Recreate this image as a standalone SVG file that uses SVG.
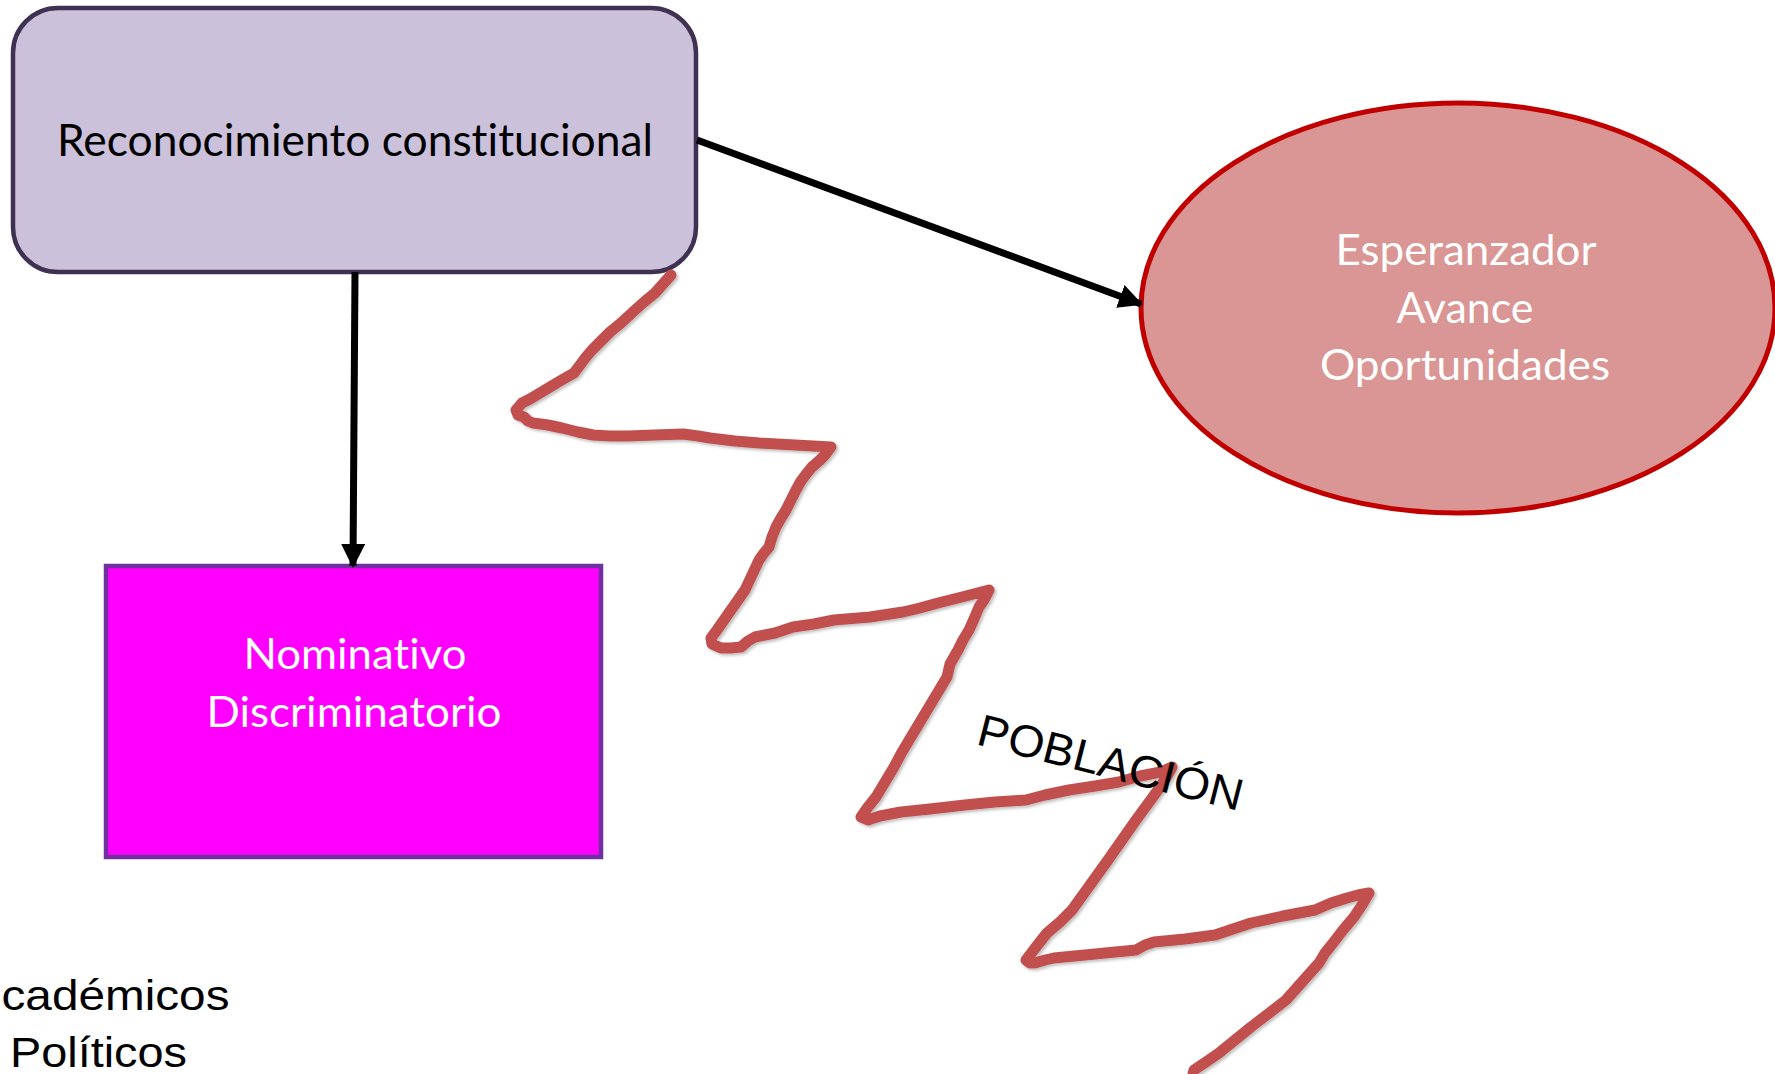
<svg xmlns="http://www.w3.org/2000/svg" width="1775" height="1074" viewBox="0 0 1775 1074">
<style>
.calibri{font-family:Lato,"Open Sans","Noto Sans",sans-serif;font-variant-ligatures:none;}
.arial{font-family:"Liberation Sans",Arial,sans-serif;fill:#000;}
.conn{stroke:#000;stroke-width:7;fill:none;}
.zig{stroke:#C0504D;stroke-width:11;fill:none;stroke-linecap:round;stroke-linejoin:round;}
</style>
<defs>
<marker id="arrow" markerUnits="userSpaceOnUse" markerWidth="24" markerHeight="24" viewBox="0 0 24 24" refX="22" refY="12" orient="auto">
<path d="M0,0 L24,12 L0,24 Z" fill="#000"/>
</marker>
<filter id="shadow" x="-5%" y="-5%" width="110%" height="110%">
<feDropShadow dx="2" dy="2" stdDeviation="1.5" flood-color="#000" flood-opacity="0.25"/>
</filter>
</defs>
<rect width="1775" height="1074" fill="#fff"/>
<g id="node-reconocimiento">
<rect x="13" y="8" width="683" height="264" rx="45" ry="45" fill="#CCC1DA" stroke="#403152" stroke-width="4.5"/>
<text class="calibri" x="355" y="156" font-size="44" text-anchor="middle" textLength="596" lengthAdjust="spacingAndGlyphs" fill="#000">Reconocimiento constitucional</text>
</g>
<g id="node-esperanzador">
<ellipse cx="1458" cy="308" rx="317" ry="205" fill="#D99694" stroke="#C00000" stroke-width="5"/>
<g class="calibri" fill="#fff" font-size="42" text-anchor="middle">
<text x="1466" y="265" textLength="261" lengthAdjust="spacingAndGlyphs">Esperanzador</text>
<text x="1465" y="323" textLength="137" lengthAdjust="spacingAndGlyphs">Avance</text>
<text x="1465" y="380" textLength="290" lengthAdjust="spacingAndGlyphs">Oportunidades</text>
</g>
</g>
<g id="node-nominativo">
<rect x="106" y="566" width="495" height="291" fill="#FF00FF" stroke="#7030A0" stroke-width="4.5"/>
<g class="calibri" fill="#fff" font-size="42" text-anchor="middle">
<text x="355" y="669" textLength="223" lengthAdjust="spacingAndGlyphs">Nominativo</text>
<text x="354" y="727" textLength="295" lengthAdjust="spacingAndGlyphs">Discriminatorio</text>
</g>
</g>
<g id="connectors">
<line class="conn" x1="355" y1="272" x2="353" y2="566" marker-end="url(#arrow)"/>
<line class="conn" x1="697" y1="140" x2="1141" y2="304" marker-end="url(#arrow)"/>
</g>
<g id="zigzag">
<polyline class="zig" filter="url(#shadow)" points="671,275 655,293 644,302 634,311 621,323 610,332 600,342 592,350 586,357 574,373 560,381 545,390 530,399 522,403 516,410 518,415 524,417 528,421 533,423 548,425 562,428 578,432 593,435 610,436 628,436 655,435 683,434 698,436 710,438 735,441 759,443 795,445 831,447 825,455 820,460 812,467 807,473 801,481 796,490 791,500 786,510 781,518 776,527 772,537 769,547 764,553 759,560 752,575 745,590 738,600 731,610 724,620 717,630 711,638 712,644 721,648 731,648 741,647 748,641 755,637 775,633 793,627 814,624 834,620 870,617 903,612 920,608 938,603 962,597 989,590 984,600 979,607 974,619 969,630 963,640 958,650 950,664 947,677 938,692 929,707 920,722 911,737 902,752 894,767 885,782 876,797 868,807 861,817 868,820 880,816 901,812 930,809 965,805 995,802 1026,800 1045,795 1069,790 1095,786 1119,782 1140,776 1161,772 1172,767 1166,778 1158,790 1147,805 1136,820 1122,840 1108,860 1090,885 1072,910 1060,922 1047,933 1036,947 1026,960 1030,963 1035,963 1045,960 1054,958 1095,954 1136,950 1145,945 1154,942 1185,939 1215,935 1233,929 1251,923 1283,916 1315,910 1331,903 1347,898 1358,895 1369,893 1362,905 1354,917 1343,930 1333,943 1325,953 1319,963 1302,982 1286,1000 1268,1014 1251,1027 1235,1040 1219,1053 1206,1062 1194,1070 1192,1078"/>
</g>
<g id="label-poblacion">
<text class="arial" transform="translate(975,744) rotate(14.3)" x="0" y="0" font-size="45" textLength="272" lengthAdjust="spacingAndGlyphs">POBLACIÓN</text>
</g>
<g id="label-list">
<text class="arial" x="1.5" y="1010" font-size="42" textLength="228" lengthAdjust="spacingAndGlyphs">cadémicos</text>
<text class="arial" x="10" y="1067" font-size="42" textLength="177" lengthAdjust="spacingAndGlyphs">Políticos</text>
</g>
</svg>
